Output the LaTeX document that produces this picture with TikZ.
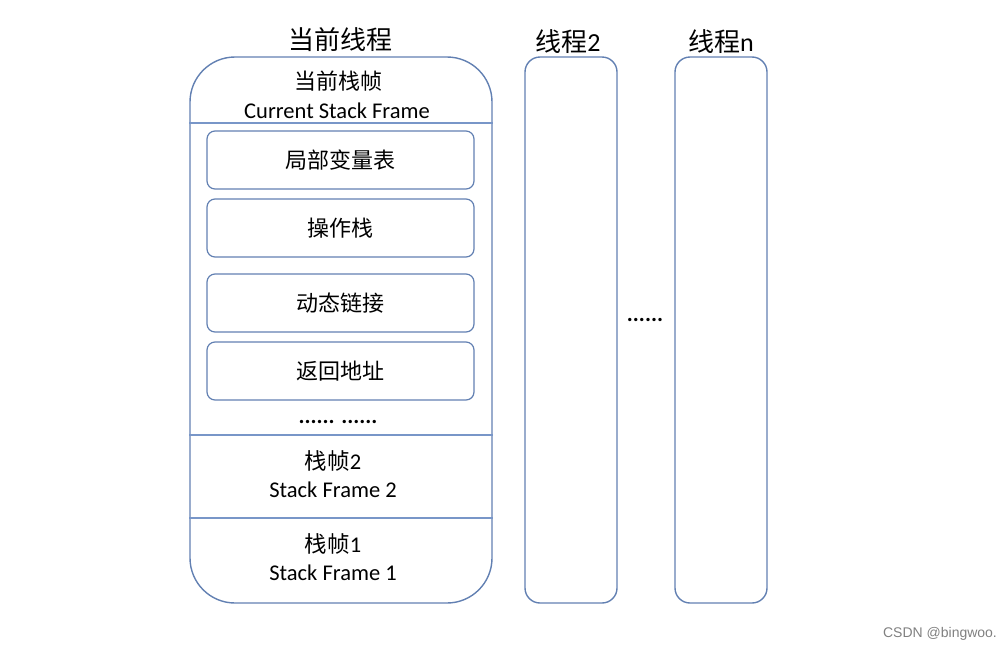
\documentclass[tikz,border=0pt]{standalone}
\usepackage{fontspec}
\setmainfont{Carlito}
\newfontfamily\cjk{Noto Sans CJK SC}
\newfontfamily\marksans{Liberation Sans}
\usepackage{tikz}
\usetikzlibrary{positioning}
\definecolor{framecol}{RGB}{98,128,178}
\definecolor{linecol}{RGB}{120,150,200}
\tikzset{
  thread/.style={draw=framecol, line width=1.4pt, rounded corners=15pt, minimum width=92pt, minimum height=546pt, inner sep=0pt},
  slot/.style={draw=framecol, line width=1.2pt, rounded corners=8pt, minimum width=267pt, minimum height=58pt, font=\fontsize{22}{24}\selectfont\cjk},
  title/.style={font=\fontsize{26}{28}\selectfont\cjk},
  label/.style={font=\fontsize{22.5}{24}\selectfont},
}
\begin{document}
\begin{tikzpicture}[x=1pt, y=-1pt]
		%%%%% START %%%%%
		\useasboundingbox (0, 0) rectangle (1008, 651);
		
		% current thread
		\node[thread, rounded corners=45pt, minimum width=302pt] (cur) at (341, 330) {};
		\node[title] (curname) at (340, 40) {当前线程};
		\node[label, font=\fontsize{22}{24}\selectfont\cjk] (frametop) at (338, 81) {当前栈帧};
		\node[label] (frametopen) at (337, 111) {Current Stack Frame};
		
		\coordinate (l1) at (cur.west |- 0, 123);
		\coordinate (r1) at (cur.east |- 0, 123);
		\coordinate (l2) at (cur.west |- 0, 435);
		\coordinate (r2) at (cur.east |- 0, 435);
		\coordinate (l3) at (cur.west |- 0, 518);
		\coordinate (r3) at (cur.east |- 0, 518);
		\draw[linecol, line width=1.2pt] (l1) -- (r1);
		\draw[linecol, line width=1.2pt] (l2) -- (r2);
		\draw[linecol, line width=1.2pt] (l3) -- (r3);
		
		\node[slot] (locals) at (340.5, 160) {局部变量表};
		\node[slot] (opstack) at (340.5, 228) {操作栈};
		\node[slot] (dynlink) at (340.5, 303) {动态链接};
		\node[slot] (retaddr) at (340.5, 371) {返回地址};
		\node[label] (moredots) at (338, 422) {\textbf{...... ......}};
		
		\node[label] (frame2) at (333, 461) {{\cjk 栈帧}2};
		\node[label] (frame2en) at (333, 490) {Stack Frame 2};
		\node[label] (frame1) at (333, 544) {{\cjk 栈帧}1};
		\node[label] (frame1en) at (333, 573) {Stack Frame 1};
		
		% other threads
		\node[thread] (thr2) at (571, 330) {};
		\node[title, font=\fontsize{26}{28}\selectfont] (thr2name) at (568, 42) {{\cjk 线程}2};
		\node[thread] (thrn) at (721, 330) {};
		\node[title, font=\fontsize{26}{28}\selectfont] (thrnname) at (721, 42) {{\cjk 线程}n};
		\node[label] (gapdots) at (645, 320) {\textbf{......}};
		
		\node[font=\fontsize{14}{16}\selectfont\marksans, text=black!50] (mark) at (940, 634) {CSDN @bingwoo.};
		%%%%% END %%%%%
\end{tikzpicture}
\end{document}
